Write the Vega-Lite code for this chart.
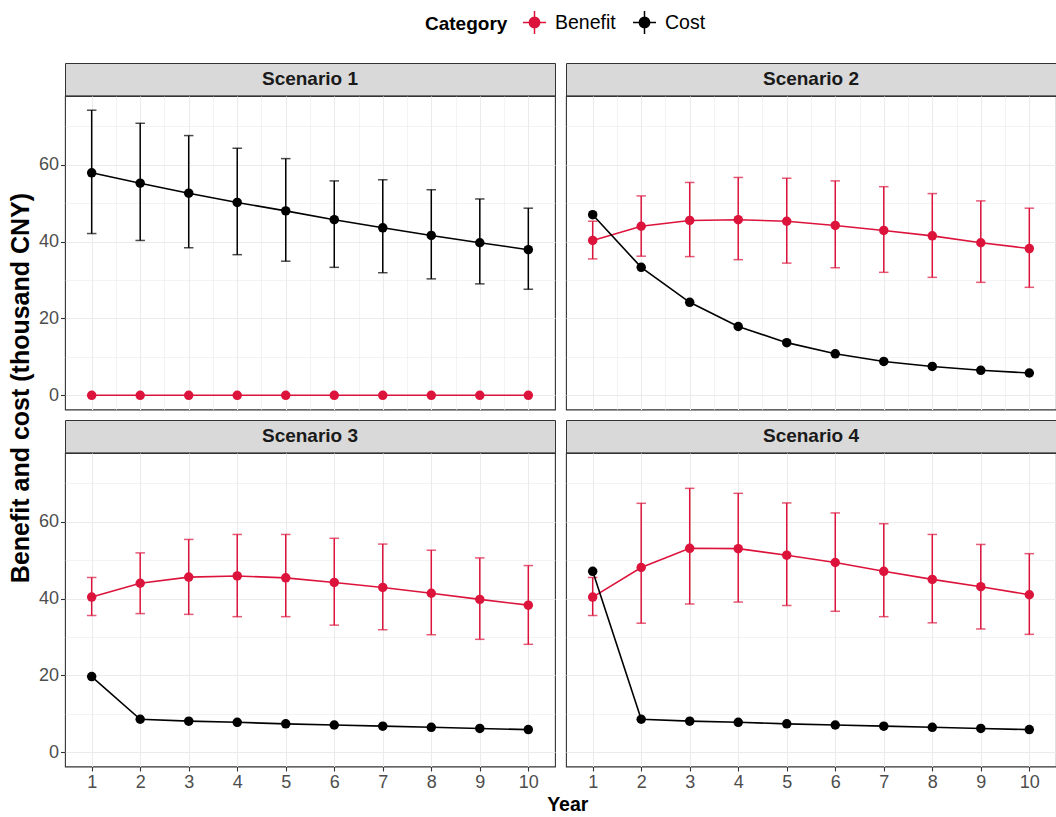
{
"$schema": "https://vega.github.io/schema/vega-lite/v6.json",
"padding": {"left": 8, "top": 10, "right": 0, "bottom": 0},
"datasets": {
"strips": [{"Scenario": "Scenario 1"}, {"Scenario": "Scenario 2"}, {"Scenario": "Scenario 3"}, {"Scenario": "Scenario 4"}],
"d": [
{"Scenario": "Scenario 1", "Category": "Benefit", "Year": 1, "Value": 0, "Lower": null, "Upper": null},
{"Scenario": "Scenario 1", "Category": "Benefit", "Year": 2, "Value": 0, "Lower": null, "Upper": null},
{"Scenario": "Scenario 1", "Category": "Benefit", "Year": 3, "Value": 0, "Lower": null, "Upper": null},
{"Scenario": "Scenario 1", "Category": "Benefit", "Year": 4, "Value": 0, "Lower": null, "Upper": null},
{"Scenario": "Scenario 1", "Category": "Benefit", "Year": 5, "Value": 0, "Lower": null, "Upper": null},
{"Scenario": "Scenario 1", "Category": "Benefit", "Year": 6, "Value": 0, "Lower": null, "Upper": null},
{"Scenario": "Scenario 1", "Category": "Benefit", "Year": 7, "Value": 0, "Lower": null, "Upper": null},
{"Scenario": "Scenario 1", "Category": "Benefit", "Year": 8, "Value": 0, "Lower": null, "Upper": null},
{"Scenario": "Scenario 1", "Category": "Benefit", "Year": 9, "Value": 0, "Lower": null, "Upper": null},
{"Scenario": "Scenario 1", "Category": "Benefit", "Year": 10, "Value": 0, "Lower": null, "Upper": null},
{"Scenario": "Scenario 1", "Category": "Cost", "Year": 1, "Value": 57.9, "Lower": 42.1, "Upper": 74.2},
{"Scenario": "Scenario 1", "Category": "Cost", "Year": 2, "Value": 55.2, "Lower": 40.3, "Upper": 70.8},
{"Scenario": "Scenario 1", "Category": "Cost", "Year": 3, "Value": 52.6, "Lower": 38.4, "Upper": 67.6},
{"Scenario": "Scenario 1", "Category": "Cost", "Year": 4, "Value": 50.2, "Lower": 36.6, "Upper": 64.3},
{"Scenario": "Scenario 1", "Category": "Cost", "Year": 5, "Value": 48.0, "Lower": 34.9, "Upper": 61.6},
{"Scenario": "Scenario 1", "Category": "Cost", "Year": 6, "Value": 45.7, "Lower": 33.3, "Upper": 55.8},
{"Scenario": "Scenario 1", "Category": "Cost", "Year": 7, "Value": 43.6, "Lower": 31.9, "Upper": 56.1},
{"Scenario": "Scenario 1", "Category": "Cost", "Year": 8, "Value": 41.6, "Lower": 30.3, "Upper": 53.5},
{"Scenario": "Scenario 1", "Category": "Cost", "Year": 9, "Value": 39.7, "Lower": 29.0, "Upper": 51.1},
{"Scenario": "Scenario 1", "Category": "Cost", "Year": 10, "Value": 37.9, "Lower": 27.6, "Upper": 48.7},
{"Scenario": "Scenario 2", "Category": "Benefit", "Year": 1, "Value": 40.3, "Lower": 35.5, "Upper": 45.3},
{"Scenario": "Scenario 2", "Category": "Benefit", "Year": 2, "Value": 44.0, "Lower": 36.2, "Upper": 51.9},
{"Scenario": "Scenario 2", "Category": "Benefit", "Year": 3, "Value": 45.5, "Lower": 36.1, "Upper": 55.4},
{"Scenario": "Scenario 2", "Category": "Benefit", "Year": 4, "Value": 45.7, "Lower": 35.3, "Upper": 56.7},
{"Scenario": "Scenario 2", "Category": "Benefit", "Year": 5, "Value": 45.3, "Lower": 34.4, "Upper": 56.5},
{"Scenario": "Scenario 2", "Category": "Benefit", "Year": 6, "Value": 44.2, "Lower": 33.2, "Upper": 55.8},
{"Scenario": "Scenario 2", "Category": "Benefit", "Year": 7, "Value": 42.9, "Lower": 32.0, "Upper": 54.3},
{"Scenario": "Scenario 2", "Category": "Benefit", "Year": 8, "Value": 41.5, "Lower": 30.7, "Upper": 52.5},
{"Scenario": "Scenario 2", "Category": "Benefit", "Year": 9, "Value": 39.7, "Lower": 29.4, "Upper": 50.6},
{"Scenario": "Scenario 2", "Category": "Benefit", "Year": 10, "Value": 38.2, "Lower": 28.1, "Upper": 48.7},
{"Scenario": "Scenario 2", "Category": "Cost", "Year": 1, "Value": 47.0, "Lower": null, "Upper": null},
{"Scenario": "Scenario 2", "Category": "Cost", "Year": 2, "Value": 33.3, "Lower": null, "Upper": null},
{"Scenario": "Scenario 2", "Category": "Cost", "Year": 3, "Value": 24.2, "Lower": null, "Upper": null},
{"Scenario": "Scenario 2", "Category": "Cost", "Year": 4, "Value": 17.9, "Lower": null, "Upper": null},
{"Scenario": "Scenario 2", "Category": "Cost", "Year": 5, "Value": 13.7, "Lower": null, "Upper": null},
{"Scenario": "Scenario 2", "Category": "Cost", "Year": 6, "Value": 10.8, "Lower": null, "Upper": null},
{"Scenario": "Scenario 2", "Category": "Cost", "Year": 7, "Value": 8.8, "Lower": null, "Upper": null},
{"Scenario": "Scenario 2", "Category": "Cost", "Year": 8, "Value": 7.5, "Lower": null, "Upper": null},
{"Scenario": "Scenario 2", "Category": "Cost", "Year": 9, "Value": 6.5, "Lower": null, "Upper": null},
{"Scenario": "Scenario 2", "Category": "Cost", "Year": 10, "Value": 5.8, "Lower": null, "Upper": null},
{"Scenario": "Scenario 3", "Category": "Benefit", "Year": 1, "Value": 40.4, "Lower": 35.6, "Upper": 45.5},
{"Scenario": "Scenario 3", "Category": "Benefit", "Year": 2, "Value": 44.0, "Lower": 36.1, "Upper": 51.9},
{"Scenario": "Scenario 3", "Category": "Benefit", "Year": 3, "Value": 45.6, "Lower": 35.9, "Upper": 55.4},
{"Scenario": "Scenario 3", "Category": "Benefit", "Year": 4, "Value": 45.9, "Lower": 35.3, "Upper": 56.7},
{"Scenario": "Scenario 3", "Category": "Benefit", "Year": 5, "Value": 45.4, "Lower": 35.3, "Upper": 56.7},
{"Scenario": "Scenario 3", "Category": "Benefit", "Year": 6, "Value": 44.2, "Lower": 33.1, "Upper": 55.7},
{"Scenario": "Scenario 3", "Category": "Benefit", "Year": 7, "Value": 42.9, "Lower": 31.9, "Upper": 54.2},
{"Scenario": "Scenario 3", "Category": "Benefit", "Year": 8, "Value": 41.4, "Lower": 30.6, "Upper": 52.6},
{"Scenario": "Scenario 3", "Category": "Benefit", "Year": 9, "Value": 39.8, "Lower": 29.4, "Upper": 50.6},
{"Scenario": "Scenario 3", "Category": "Benefit", "Year": 10, "Value": 38.3, "Lower": 28.1, "Upper": 48.6},
{"Scenario": "Scenario 3", "Category": "Cost", "Year": 1, "Value": 19.7, "Lower": null, "Upper": null},
{"Scenario": "Scenario 3", "Category": "Cost", "Year": 2, "Value": 8.6, "Lower": null, "Upper": null},
{"Scenario": "Scenario 3", "Category": "Cost", "Year": 3, "Value": 8.1, "Lower": null, "Upper": null},
{"Scenario": "Scenario 3", "Category": "Cost", "Year": 4, "Value": 7.8, "Lower": null, "Upper": null},
{"Scenario": "Scenario 3", "Category": "Cost", "Year": 5, "Value": 7.4, "Lower": null, "Upper": null},
{"Scenario": "Scenario 3", "Category": "Cost", "Year": 6, "Value": 7.1, "Lower": null, "Upper": null},
{"Scenario": "Scenario 3", "Category": "Cost", "Year": 7, "Value": 6.8, "Lower": null, "Upper": null},
{"Scenario": "Scenario 3", "Category": "Cost", "Year": 8, "Value": 6.5, "Lower": null, "Upper": null},
{"Scenario": "Scenario 3", "Category": "Cost", "Year": 9, "Value": 6.2, "Lower": null, "Upper": null},
{"Scenario": "Scenario 3", "Category": "Cost", "Year": 10, "Value": 5.9, "Lower": null, "Upper": null},
{"Scenario": "Scenario 4", "Category": "Benefit", "Year": 1, "Value": 40.4, "Lower": 35.6, "Upper": 45.5},
{"Scenario": "Scenario 4", "Category": "Benefit", "Year": 2, "Value": 48.1, "Lower": 33.6, "Upper": 64.8},
{"Scenario": "Scenario 4", "Category": "Benefit", "Year": 3, "Value": 53.1, "Lower": 38.6, "Upper": 68.7},
{"Scenario": "Scenario 4", "Category": "Benefit", "Year": 4, "Value": 53.0, "Lower": 39.1, "Upper": 67.4},
{"Scenario": "Scenario 4", "Category": "Benefit", "Year": 5, "Value": 51.3, "Lower": 38.2, "Upper": 64.9},
{"Scenario": "Scenario 4", "Category": "Benefit", "Year": 6, "Value": 49.4, "Lower": 36.7, "Upper": 62.3},
{"Scenario": "Scenario 4", "Category": "Benefit", "Year": 7, "Value": 47.1, "Lower": 35.3, "Upper": 59.5},
{"Scenario": "Scenario 4", "Category": "Benefit", "Year": 8, "Value": 45.0, "Lower": 33.7, "Upper": 56.7},
{"Scenario": "Scenario 4", "Category": "Benefit", "Year": 9, "Value": 43.1, "Lower": 32.1, "Upper": 54.1},
{"Scenario": "Scenario 4", "Category": "Benefit", "Year": 10, "Value": 41.0, "Lower": 30.7, "Upper": 51.7},
{"Scenario": "Scenario 4", "Category": "Cost", "Year": 1, "Value": 47.1, "Lower": null, "Upper": null},
{"Scenario": "Scenario 4", "Category": "Cost", "Year": 2, "Value": 8.6, "Lower": null, "Upper": null},
{"Scenario": "Scenario 4", "Category": "Cost", "Year": 3, "Value": 8.1, "Lower": null, "Upper": null},
{"Scenario": "Scenario 4", "Category": "Cost", "Year": 4, "Value": 7.8, "Lower": null, "Upper": null},
{"Scenario": "Scenario 4", "Category": "Cost", "Year": 5, "Value": 7.4, "Lower": null, "Upper": null},
{"Scenario": "Scenario 4", "Category": "Cost", "Year": 6, "Value": 7.1, "Lower": null, "Upper": null},
{"Scenario": "Scenario 4", "Category": "Cost", "Year": 7, "Value": 6.8, "Lower": null, "Upper": null},
{"Scenario": "Scenario 4", "Category": "Cost", "Year": 8, "Value": 6.5, "Lower": null, "Upper": null},
{"Scenario": "Scenario 4", "Category": "Cost", "Year": 9, "Value": 6.2, "Lower": null, "Upper": null},
{"Scenario": "Scenario 4", "Category": "Cost", "Year": 10, "Value": 5.9, "Lower": null, "Upper": null}
]
},
"config": {
"font": "Liberation Sans",
"view": {"stroke": "#333333", "strokeWidth": 1.1},
"axis": {"domain": false, "gridColor": "#EBEBEB", "tickColor": "#333333", "tickSize": 4.5, "tickWidth": 1.1, "labelColor": "#4D4D4D", "labelFont": "Liberation Sans", "labelFontSize": 18, "labelPadding": 2},
"legend": {"labelFont": "Liberation Sans", "labelFontSize": 19.5, "labelColor": "#000000", "titleFont": "Liberation Sans", "titleFontSize": 19, "titleFontWeight": "bold", "titleColor": "#000000", "titlePadding": 14, "columnPadding": 14, "labelOffset": 8},
"title": {"font": "Liberation Sans"}
},
"title": {"text": "Year", "orient": "bottom", "anchor": "middle", "fontSize": 19.5, "fontWeight": "bold", "color": "#000000", "offset": 4, "dx": 35},
"resolve": {"scale": {"color": "shared"}},
"vconcat": [
{
"title": {"text": "Benefit and cost (thousand CNY)", "orient": "left", "anchor": "middle", "fontSize": 25, "fontWeight": "bold", "color": "#000000", "offset": 4, "dx": 39},
"spacing": 8,
"vconcat": [
{"spacing": 9, "hconcat": [
{"bounds": "flush", "spacing": 0, "vconcat": [
{"width": 490, "height": 32.5, "view": {"fill": "#D9D9D9", "stroke": "#333333"}, "data": {"name": "strips"}, "transform": [{"filter": "datum.Scenario == 'Scenario 1'"}], "mark": {"type": "text", "fontSize": 19, "fontWeight": "bold", "color": "#1A1A1A"}, "encoding": {"text": {"field": "Scenario", "type": "nominal"}}},
{"width": 490, "height": 313.5, "data": {"name": "d"}, "transform": [{"filter": "datum.Scenario == 'Scenario 1'"}],
"encoding": {
"x": {"field": "Year", "type": "quantitative", "scale": {"domain": [0.45, 10.55], "nice": false, "zero": false}, "axis": {"values": [1,1.5,2,2.5,3,3.5,4,4.5,5,5.5,6,6.5,7,7.5,8,8.5,9,9.5,10], "labels": false, "ticks": false, "title": null, "gridWidth": {"condition": {"test": "datum.value % 1 != 0", "value": 0.6}, "value": 1.1}}},
"y": {"field": "Value", "type": "quantitative", "scale": {"domain": [-3.7, 77.9], "nice": false, "zero": false}, "axis": {"values": [0,10,20,30,40,50,60,70], "labelExpr": "datum.value % 20 == 0 ? datum.label : ''", "tickOpacity": {"condition": {"test": "datum.value % 20 != 0", "value": 0}, "value": 1}, "gridWidth": {"condition": {"test": "datum.value % 20 != 0", "value": 0.6}, "value": 1.1}, "title": null}},
"color": {"field": "Category", "type": "nominal", "scale": {"domain": ["Benefit", "Cost"], "range": ["#DC143C", "#000000"]}, "legend": {"title": "Category", "orient": "none", "legendX": 360, "legendY": -53, "direction": "horizontal", "titleOrient": "left", "symbolType": "M-1,0H1M0,-1V1M0.45,0A0.45,0.45,0,1,1,-0.45,0A0.45,0.45,0,1,1,0.45,0Z", "symbolSize": 529, "symbolStrokeWidth": 1.5, "symbolOpacity": 1, "encode": {"symbols": {"update": {"stroke": {"signal": "scale('color', datum.value)"}, "fill": {"signal": "scale('color', datum.value)"}}}}}}
},
"layer": [
{"transform": [{"filter": "isValid(datum.Lower)"}], "mark": {"type": "errorbar", "ticks": true, "size": 9.5, "thickness": 1.5}, "encoding": {"y": {"field": "Lower", "type": "quantitative", "scale": {"domain": [-3.7, 77.9], "nice": false, "zero": false}, "axis": {"values": [0,10,20,30,40,50,60,70], "labelExpr": "datum.value % 20 == 0 ? datum.label : ''", "tickOpacity": {"condition": {"test": "datum.value % 20 != 0", "value": 0}, "value": 1}, "gridWidth": {"condition": {"test": "datum.value % 20 != 0", "value": 0.6}, "value": 1.1}, "title": null}}, "y2": {"field": "Upper"}}},
{"mark": {"type": "line", "strokeWidth": 1.6}},
{"mark": {"type": "point", "filled": true, "size": 90, "opacity": 1}}
]}
]},
{"bounds": "flush", "spacing": 0, "vconcat": [
{"width": 490, "height": 32.5, "view": {"fill": "#D9D9D9", "stroke": "#333333"}, "data": {"name": "strips"}, "transform": [{"filter": "datum.Scenario == 'Scenario 2'"}], "mark": {"type": "text", "fontSize": 19, "fontWeight": "bold", "color": "#1A1A1A"}, "encoding": {"text": {"field": "Scenario", "type": "nominal"}}},
{"width": 490, "height": 313.5, "data": {"name": "d"}, "transform": [{"filter": "datum.Scenario == 'Scenario 2'"}],
"encoding": {
"x": {"field": "Year", "type": "quantitative", "scale": {"domain": [0.45, 10.55], "nice": false, "zero": false}, "axis": {"values": [1,1.5,2,2.5,3,3.5,4,4.5,5,5.5,6,6.5,7,7.5,8,8.5,9,9.5,10], "labels": false, "ticks": false, "title": null, "gridWidth": {"condition": {"test": "datum.value % 1 != 0", "value": 0.6}, "value": 1.1}}},
"y": {"field": "Value", "type": "quantitative", "scale": {"domain": [-3.7, 77.9], "nice": false, "zero": false}, "axis": {"values": [0,10,20,30,40,50,60,70], "labels": false, "ticks": false, "gridWidth": {"condition": {"test": "datum.value % 20 != 0", "value": 0.6}, "value": 1.1}, "title": null}},
"color": {"field": "Category", "type": "nominal", "scale": {"domain": ["Benefit", "Cost"], "range": ["#DC143C", "#000000"]}, "legend": {"title": "Category", "orient": "none", "legendX": 360, "legendY": -53, "direction": "horizontal", "titleOrient": "left", "symbolType": "M-1,0H1M0,-1V1M0.45,0A0.45,0.45,0,1,1,-0.45,0A0.45,0.45,0,1,1,0.45,0Z", "symbolSize": 529, "symbolStrokeWidth": 1.5, "symbolOpacity": 1, "encode": {"symbols": {"update": {"stroke": {"signal": "scale('color', datum.value)"}, "fill": {"signal": "scale('color', datum.value)"}}}}}}
},
"layer": [
{"transform": [{"filter": "isValid(datum.Lower)"}], "mark": {"type": "errorbar", "ticks": true, "size": 9.5, "thickness": 1.5}, "encoding": {"y": {"field": "Lower", "type": "quantitative", "scale": {"domain": [-3.7, 77.9], "nice": false, "zero": false}, "axis": {"values": [0,10,20,30,40,50,60,70], "labels": false, "ticks": false, "gridWidth": {"condition": {"test": "datum.value % 20 != 0", "value": 0.6}, "value": 1.1}, "title": null}}, "y2": {"field": "Upper"}}},
{"mark": {"type": "line", "strokeWidth": 1.6}},
{"mark": {"type": "point", "filled": true, "size": 90, "opacity": 1}}
]}
]}
]},
{"spacing": 9, "hconcat": [
{"bounds": "flush", "spacing": 0, "vconcat": [
{"width": 490, "height": 32.5, "view": {"fill": "#D9D9D9", "stroke": "#333333"}, "data": {"name": "strips"}, "transform": [{"filter": "datum.Scenario == 'Scenario 3'"}], "mark": {"type": "text", "fontSize": 19, "fontWeight": "bold", "color": "#1A1A1A"}, "encoding": {"text": {"field": "Scenario", "type": "nominal"}}},
{"width": 490, "height": 313.5, "data": {"name": "d"}, "transform": [{"filter": "datum.Scenario == 'Scenario 3'"}],
"encoding": {
"x": {"field": "Year", "type": "quantitative", "scale": {"domain": [0.45, 10.55], "nice": false, "zero": false}, "axis": {"values": [1,1.5,2,2.5,3,3.5,4,4.5,5,5.5,6,6.5,7,7.5,8,8.5,9,9.5,10], "format": "d", "labelExpr": "datum.value % 1 == 0 ? datum.label : ''", "tickOpacity": {"condition": {"test": "datum.value % 1 != 0", "value": 0}, "value": 1}, "title": null, "gridWidth": {"condition": {"test": "datum.value % 1 != 0", "value": 0.6}, "value": 1.1}}},
"y": {"field": "Value", "type": "quantitative", "scale": {"domain": [-3.7, 77.9], "nice": false, "zero": false}, "axis": {"values": [0,10,20,30,40,50,60,70], "labelExpr": "datum.value % 20 == 0 ? datum.label : ''", "tickOpacity": {"condition": {"test": "datum.value % 20 != 0", "value": 0}, "value": 1}, "gridWidth": {"condition": {"test": "datum.value % 20 != 0", "value": 0.6}, "value": 1.1}, "title": null}},
"color": {"field": "Category", "type": "nominal", "scale": {"domain": ["Benefit", "Cost"], "range": ["#DC143C", "#000000"]}, "legend": {"title": "Category", "orient": "none", "legendX": 360, "legendY": -53, "direction": "horizontal", "titleOrient": "left", "symbolType": "M-1,0H1M0,-1V1M0.45,0A0.45,0.45,0,1,1,-0.45,0A0.45,0.45,0,1,1,0.45,0Z", "symbolSize": 529, "symbolStrokeWidth": 1.5, "symbolOpacity": 1, "encode": {"symbols": {"update": {"stroke": {"signal": "scale('color', datum.value)"}, "fill": {"signal": "scale('color', datum.value)"}}}}}}
},
"layer": [
{"transform": [{"filter": "isValid(datum.Lower)"}], "mark": {"type": "errorbar", "ticks": true, "size": 9.5, "thickness": 1.5}, "encoding": {"y": {"field": "Lower", "type": "quantitative", "scale": {"domain": [-3.7, 77.9], "nice": false, "zero": false}, "axis": {"values": [0,10,20,30,40,50,60,70], "labelExpr": "datum.value % 20 == 0 ? datum.label : ''", "tickOpacity": {"condition": {"test": "datum.value % 20 != 0", "value": 0}, "value": 1}, "gridWidth": {"condition": {"test": "datum.value % 20 != 0", "value": 0.6}, "value": 1.1}, "title": null}}, "y2": {"field": "Upper"}}},
{"mark": {"type": "line", "strokeWidth": 1.6}},
{"mark": {"type": "point", "filled": true, "size": 90, "opacity": 1}}
]}
]},
{"bounds": "flush", "spacing": 0, "vconcat": [
{"width": 490, "height": 32.5, "view": {"fill": "#D9D9D9", "stroke": "#333333"}, "data": {"name": "strips"}, "transform": [{"filter": "datum.Scenario == 'Scenario 4'"}], "mark": {"type": "text", "fontSize": 19, "fontWeight": "bold", "color": "#1A1A1A"}, "encoding": {"text": {"field": "Scenario", "type": "nominal"}}},
{"width": 490, "height": 313.5, "data": {"name": "d"}, "transform": [{"filter": "datum.Scenario == 'Scenario 4'"}],
"encoding": {
"x": {"field": "Year", "type": "quantitative", "scale": {"domain": [0.45, 10.55], "nice": false, "zero": false}, "axis": {"values": [1,1.5,2,2.5,3,3.5,4,4.5,5,5.5,6,6.5,7,7.5,8,8.5,9,9.5,10], "format": "d", "labelExpr": "datum.value % 1 == 0 ? datum.label : ''", "tickOpacity": {"condition": {"test": "datum.value % 1 != 0", "value": 0}, "value": 1}, "title": null, "gridWidth": {"condition": {"test": "datum.value % 1 != 0", "value": 0.6}, "value": 1.1}}},
"y": {"field": "Value", "type": "quantitative", "scale": {"domain": [-3.7, 77.9], "nice": false, "zero": false}, "axis": {"values": [0,10,20,30,40,50,60,70], "labels": false, "ticks": false, "gridWidth": {"condition": {"test": "datum.value % 20 != 0", "value": 0.6}, "value": 1.1}, "title": null}},
"color": {"field": "Category", "type": "nominal", "scale": {"domain": ["Benefit", "Cost"], "range": ["#DC143C", "#000000"]}, "legend": {"title": "Category", "orient": "none", "legendX": 360, "legendY": -53, "direction": "horizontal", "titleOrient": "left", "symbolType": "M-1,0H1M0,-1V1M0.45,0A0.45,0.45,0,1,1,-0.45,0A0.45,0.45,0,1,1,0.45,0Z", "symbolSize": 529, "symbolStrokeWidth": 1.5, "symbolOpacity": 1, "encode": {"symbols": {"update": {"stroke": {"signal": "scale('color', datum.value)"}, "fill": {"signal": "scale('color', datum.value)"}}}}}}
},
"layer": [
{"transform": [{"filter": "isValid(datum.Lower)"}], "mark": {"type": "errorbar", "ticks": true, "size": 9.5, "thickness": 1.5}, "encoding": {"y": {"field": "Lower", "type": "quantitative", "scale": {"domain": [-3.7, 77.9], "nice": false, "zero": false}, "axis": {"values": [0,10,20,30,40,50,60,70], "labels": false, "ticks": false, "gridWidth": {"condition": {"test": "datum.value % 20 != 0", "value": 0.6}, "value": 1.1}, "title": null}}, "y2": {"field": "Upper"}}},
{"mark": {"type": "line", "strokeWidth": 1.6}},
{"mark": {"type": "point", "filled": true, "size": 90, "opacity": 1}}
]}
]}
]}
]
}
]
}
